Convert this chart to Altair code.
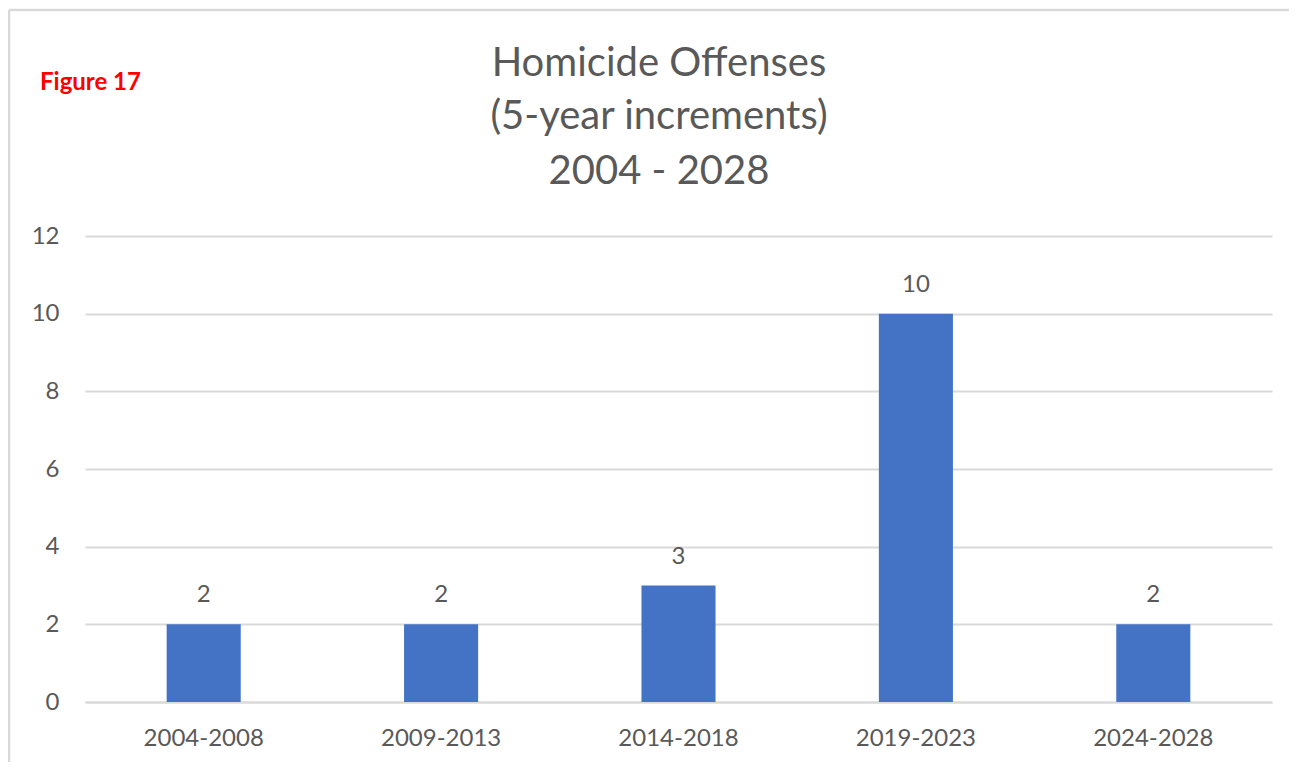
import altair as alt
import pandas as pd

periods = ["2004-2008", "2009-2013", "2014-2018", "2019-2023", "2024-2028"]
offenses = [2, 2, 3, 10, 2]
y_ticks = [0, 2, 4, 6, 8, 10, 12]
title_lines = ["Homicide Offenses", "(5-year increments)", "2004 - 2028"]
figure_label = "Figure 17"

df = pd.DataFrame({"period": periods, "count": offenses})

FONT = "Lato"
GREY = "#595959"
W, H = 1187, 466

x_enc = alt.X(
    "period:N",
    sort=periods,
    title=None,
    scale=alt.Scale(paddingInner=0.688, paddingOuter=0.344),
    axis=alt.Axis(
        labelAngle=0,
        labelFont=FONT,
        labelFontSize=24,
        labelColor=GREY,
        labelPadding=24,
        ticks=False,
        domainColor="#d9d9d9",
        domainWidth=2,
        grid=False,
    ),
)
y_enc = alt.Y(
    "count:Q",
    title=None,
    scale=alt.Scale(domain=[0, 12], nice=False),
    axis=alt.Axis(
        values=y_ticks,
        labelFont=FONT,
        labelFontSize=24,
        labelColor=GREY,
        labelPadding=26,
        ticks=False,
        domain=False,
        gridColor="#d9d9d9",
        gridWidth=2,
    ),
)

base = alt.Chart(df)
bars = base.mark_bar(color="#4472C4").encode(x=x_enc, y=y_enc)
labels = base.mark_text(
    font=FONT, fontSize=24, color=GREY, baseline="alphabetic", dy=-22
).encode(x=alt.X("period:N", sort=periods), y=alt.Y("count:Q"), text="count:Q")

one = alt.Data(values=[{}])
title_layers = []
title_y = [64, 117, 172]
for line, yy in zip(title_lines, title_y):
    title_layers.append(
        alt.Chart(one).mark_text(
            font=FONT, fontSize=40, color=GREY, baseline="middle", align="center"
        ).encode(x=alt.value(659 - 85), y=alt.value(yy - 236), text=alt.value(line))
    )

fig = alt.Chart(one).mark_text(
    font=FONT, fontSize=24, fontWeight="bold", color="#FF0000",
    baseline="middle", align="left"
).encode(x=alt.value(40 - 85), y=alt.value(83 - 236), text=alt.value(figure_label))

frame_top = alt.Chart(one).mark_rule(color="#d9d9d9", strokeWidth=2.5).encode(
    x=alt.value(9 - 85), x2=alt.value(1400), y=alt.value(10 - 236)
)
frame_left = alt.Chart(one).mark_rule(color="#d9d9d9", strokeWidth=2.5).encode(
    x=alt.value(9 - 85), y=alt.value(10 - 236), y2=alt.value(900)
)

chart = alt.layer(frame_top, frame_left, bars, labels, *title_layers, fig).properties(
    width=W,
    height=H,
    autosize=alt.AutoSizeParams(type="none"),
    padding={"left": 77, "top": 228, "right": 17, "bottom": 60},
    background="white",
).configure_view(stroke=None)

chart.save("out.html", embed_options={"renderer": "svg", "actions": False})
